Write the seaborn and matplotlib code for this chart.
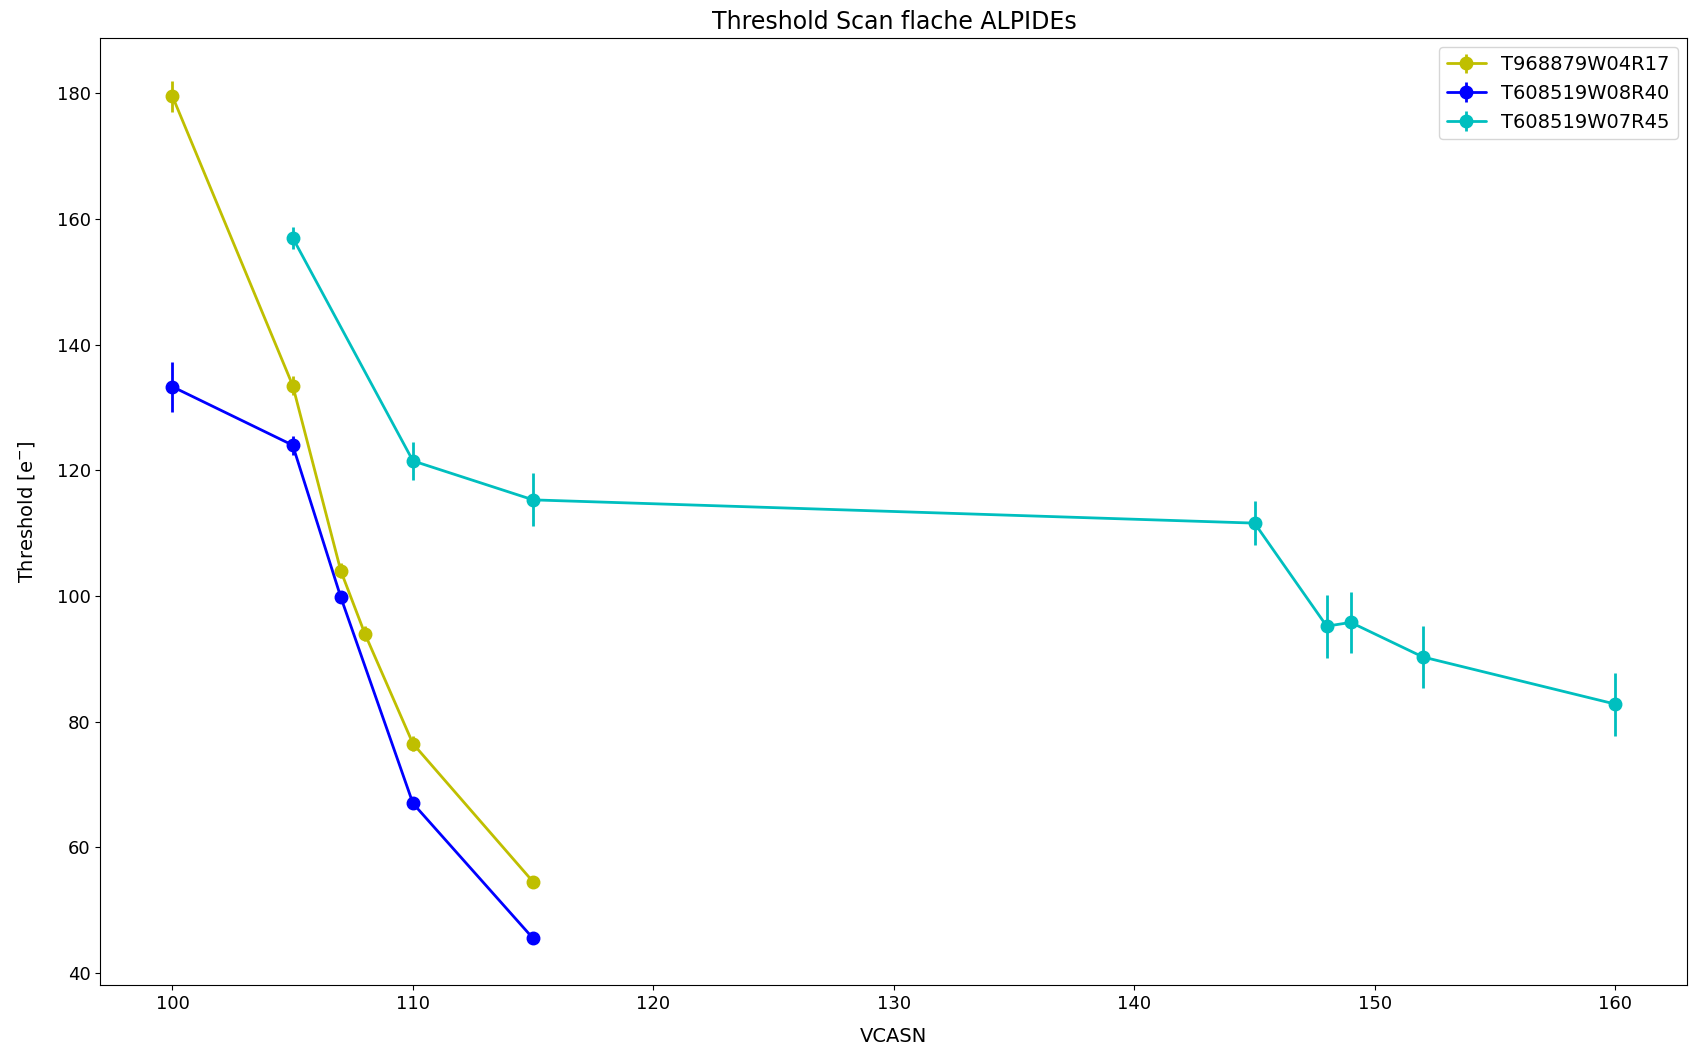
import matplotlib
matplotlib.use("Agg")
import matplotlib.pyplot as plt
import seaborn as sns
import numpy as np

sns.set_style("ticks")
plt.rcParams['font.family'] = ['DejaVu Sans']
plt.rcParams.update({'text.color': 'black', 'axes.labelcolor': 'black',
                     'xtick.color': 'black', 'ytick.color': 'black'})

labels = ["T968879W04R17", "T608519W08R40", "T608519W07R45"]
colors = ["y", "b", "c"]

x_r17 = [100, 105, 107, 108, 110, 115]
y_r17 = [179.5, 133.5, 104.0, 94.0, 76.5, 54.5]
e_r17 = [2.5, 1.5, 1.2, 1.2, 1.2, 1.0]

x_r40 = [100, 105, 107, 110, 115]
y_r40 = [133.3, 124.0, 99.8, 67.0, 45.5]
e_r40 = [4.0, 1.5, 0.8, 0.8, 0.6]

x_r45 = [105, 110, 115, 145, 148, 149, 152, 160]
y_r45 = [157.0, 121.5, 115.3, 111.6, 95.2, 95.8, 90.3, 82.8]
e_r45 = [1.8, 3.0, 4.2, 3.5, 5.0, 4.9, 5.0, 5.0]

series = [(x_r17, y_r17, e_r17), (x_r40, y_r40, e_r40), (x_r45, y_r45, e_r45)]

fig, ax = plt.subplots(figsize=(17.01, 10.46), dpi=100)
for (xs, ys, es), lab, col in zip(series, labels, colors):
    ax.errorbar(xs, ys, yerr=es, fmt='-o', color=col, label=lab,
                markersize=9, linewidth=2, elinewidth=2)

ax.set_title("Threshold Scan flache ALPIDEs", fontsize=17, color='black', pad=6)
ax.set_xlabel("VCASN", fontsize=14, labelpad=10)
ax.set_ylabel("Threshold [e$^{-}$]", fontsize=14, labelpad=14)
ax.tick_params(labelsize=13, colors='black')
ax.legend(loc="upper right", fontsize=14)
for s in ax.spines.values():
    s.set_color("black")
fig.subplots_adjust(left=0.059, right=0.992, top=0.964, bottom=0.058)
fig.savefig("out.png", dpi=100)
